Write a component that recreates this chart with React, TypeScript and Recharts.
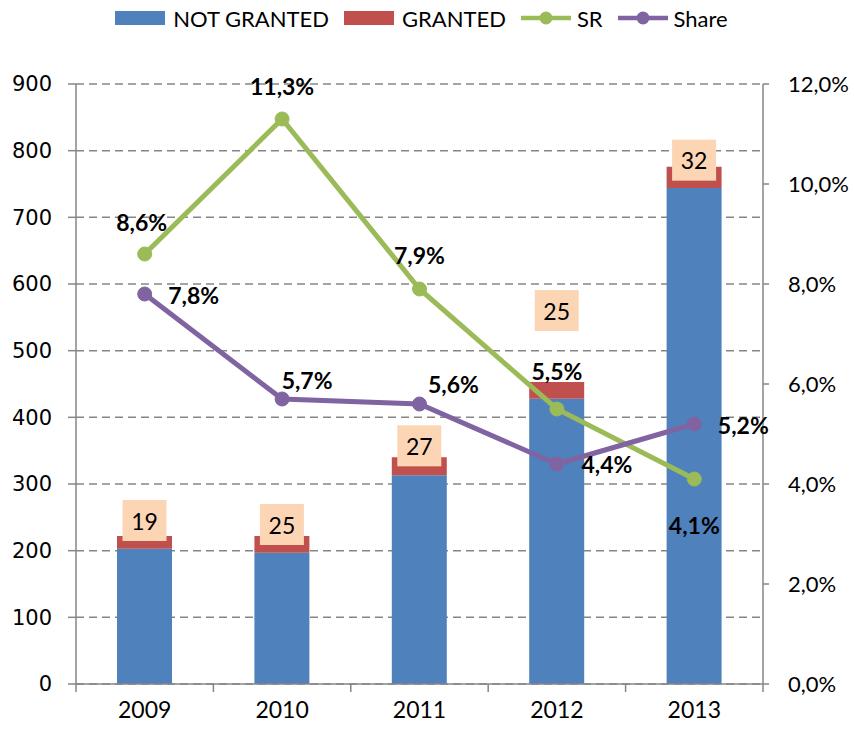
import React from 'react';
import {
  ComposedChart, Bar, Line, XAxis, YAxis, CartesianGrid, LabelList,
} from 'recharts';

const years = ['2009', '2010', '2011', '2012', '2013'];
const notGranted = [203, 197, 313, 428, 744];
const granted = [19, 25, 27, 25, 32];
const sr = [0.086, 0.113, 0.079, 0.055, 0.041];
const share = [0.078, 0.057, 0.056, 0.044, 0.052];
const leftTicks = [0, 100, 200, 300, 400, 500, 600, 700, 800, 900];
const rightTicks = [0, 0.02, 0.04, 0.06, 0.08, 0.1, 0.12];

const data = years.map((y, i) => ({
  year: y,
  notGranted: notGranted[i],
  granted: granted[i],
  sr: sr[i],
  share: share[i],
}));

const BLUE = '#4F81BD';
const RED = '#C0504D';
const GREEN = '#9BBB59';
const PURPLE = '#8064A2';
const PEACH = '#FCD5B5';
const AXIS = '#868686';
const FONT = 'Lato, "Open Sans", sans-serif';

const srOffsets = [[-3, -32], [0, -33], [0, -34], [0, -38], [0, 46]];
const shareOffsets = [[49, 1], [25, -19], [34, -20], [50, 0], [49, 1]];
const grantedOffsets = [-15.5, -11.5, -11.5, -71.5, -6.5];

const pct = (v: number) => (v * 100).toFixed(1).replace('.', ',') + '%';

const makePctLabel = (offsets: number[][]) => (props: any) => {
  const { x, y, value, index } = props;
  const [dx, dy] = offsets[index] || [0, 0];
  return (
    <text x={x + dx} y={y + dy} textAnchor="middle" dominantBaseline="central"
      fontFamily={FONT} fontWeight={700} fontSize={23} fill="#000">
      {pct(value)}
    </text>
  );
};

const GrantedLabel = (props: any) => {
  const { x, y, width, value, index } = props;
  const cx = x + width / 2;
  const cy = y + (grantedOffsets[index] || 0);
  return (
    <g>
      <rect x={cx - 22} y={cy - 20.5} width={44} height={41} fill={PEACH} />
      <text x={cx} y={cy} textAnchor="middle" dominantBaseline="central"
        fontFamily={FONT} fontSize={23} fill="#000">{value}</text>
    </g>
  );
};

const XTick = (props: any) => {
  const { x, y, payload, index } = props;
  const off = payload && payload.offset ? payload.offset : 68.7;
  return (
    <g>
      <line x1={x - off} y1={y} x2={x - off} y2={y + 8} stroke={AXIS} strokeWidth={1.5} />
      {index === years.length - 1 && (
        <line x1={x + off} y1={y} x2={x + off} y2={y + 8} stroke={AXIS} strokeWidth={1.5} />
      )}
      <text x={x} y={y + 34} textAnchor="middle" fontFamily={FONT} fontSize={23} fill="#000">
        {payload.value}
      </text>
    </g>
  );
};

const LegendBox = () => {
  const item = (kind: string, color: string, label: string) => (
    <div style={{ display: 'flex', alignItems: 'center', marginRight: 15 }}>
      {kind === 'rect' ? (
        <div style={{ width: 50, height: 14, background: color, marginRight: 8 }} />
      ) : (
        <svg width={50} height={16} style={{ marginRight: 6 }}>
          <line x1={0} y1={8} x2={50} y2={8} stroke={color} strokeWidth={4.5} />
          <circle cx={25} cy={8} r={6.5} fill={color} />
        </svg>
      )}
      <span style={{ fontFamily: FONT, fontSize: 22, color: '#000' }}>{label}</span>
    </div>
  );
  return (
    <div style={{ position: 'absolute', top: 4, left: 0, width: 854, display: 'flex',
      justifyContent: 'center', alignItems: 'center', paddingLeft: 2, height: 28 }}>
      {item('rect', BLUE, 'NOT GRANTED')}
      {item('rect', RED, 'GRANTED')}
      {item('line', GREEN, 'SR')}
      {item('line', PURPLE, 'Share')}
    </div>
  );
};

export default function App() {
  return (
    <div style={{ position: 'absolute', left: 0, top: 0, width: 854, height: 729, background: '#fff' }}>
      <ComposedChart width={854} height={729} data={data}
        margin={{ top: 84, right: 0, left: 0, bottom: 0 }}>
        <CartesianGrid vertical={false} stroke={AXIS} strokeWidth={1.5} strokeDasharray="8 5" yAxisId="left" />
        <XAxis dataKey="year" height={45} tickLine={false} tickSize={0} tickMargin={0}
          axisLine={{ stroke: AXIS, strokeWidth: 1.5 }} tick={<XTick />} interval={0} />
        <YAxis yAxisId="left" orientation="left" width={76} domain={[0, 900]} ticks={leftTicks}
          interval={0} tickSize={8} tickMargin={16}
          axisLine={{ stroke: AXIS, strokeWidth: 1.5 }} tickLine={{ stroke: AXIS, strokeWidth: 1.5 }}
          tick={{ fill: '#000', fontSize: 21, fontFamily: '"DejaVu Sans", sans-serif' }} />
        <YAxis yAxisId="right" orientation="right" width={91} domain={[0, 0.12]} ticks={rightTicks}
          interval={0} tickSize={6} tickMargin={19} tickFormatter={pct}
          axisLine={{ stroke: AXIS, strokeWidth: 1.5 }} tickLine={{ stroke: AXIS, strokeWidth: 1.5 }}
          tick={{ fill: '#000', fontSize: 22, fontFamily: FONT, textAnchor: 'start' }} />
        <Bar yAxisId="left" dataKey="notGranted" stackId="a" fill={BLUE} barSize={55} isAnimationActive={false} />
        <Bar yAxisId="left" dataKey="granted" stackId="a" fill={RED} barSize={55} isAnimationActive={false}>
          <LabelList dataKey="granted" content={<GrantedLabel />} />
        </Bar>
        <Line yAxisId="right" dataKey="sr" stroke={GREEN} strokeWidth={5}
          dot={{ r: 7, fill: GREEN, stroke: GREEN, strokeWidth: 1 }} isAnimationActive={false}>
          <LabelList dataKey="sr" content={makePctLabel(srOffsets)} />
        </Line>
        <Line yAxisId="right" dataKey="share" stroke={PURPLE} strokeWidth={5}
          dot={{ r: 7, fill: PURPLE, stroke: PURPLE, strokeWidth: 1 }} isAnimationActive={false}>
          <LabelList dataKey="share" content={makePctLabel(shareOffsets)} />
        </Line>
      </ComposedChart>
      <LegendBox />
    </div>
  );
}
